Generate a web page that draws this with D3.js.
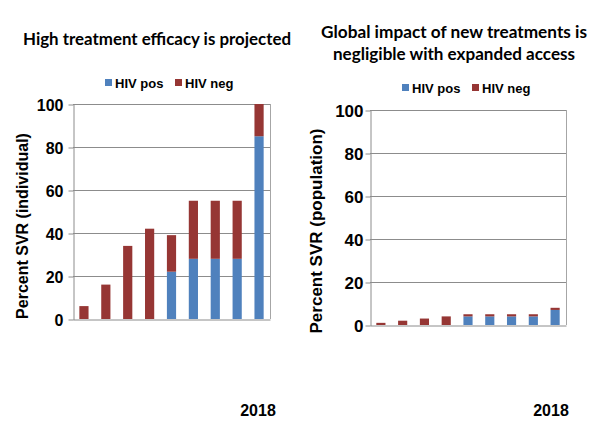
<!DOCTYPE html>
<html><head><meta charset="utf-8">
<script src="https://cdn.jsdelivr.net/npm/d3@7"></script>
<style>body{margin:0;background:#fff}svg{display:block}text{font-family:"Liberation Sans",Arial,sans-serif;font-weight:bold;fill:#000}</style>
</head><body>
<svg id="c" width="600" height="428"></svg>
<script>
const categories = ["1","2","3","4","5","6","7","8","2018"];
const seriesNames = ["HIV pos","HIV neg"];
const leftPos = [0,0,0,0,22,28,28,28,85];
const leftNeg = [6,16,34,42,17,27,27,27,15];
const rightPos = [0,0,0,0,4,4,4,4,7];
const rightNeg = [1,2,3,4,1,1,1,1,1];
const yTicks = [0,20,40,60,80,100];
const xLabels = ["","","","","","","","","2018"];
const colors = ["#4F81BD","#963634"];

const svg = d3.select("#c");

function drawChart(o){
  const g = svg.append("g");
  const x = d3.scaleBand().domain(categories).range([o.x0,o.x1]).paddingInner(0.58).paddingOuter(0.29);
  const y = d3.scaleLinear().domain([0,100]).range([o.y0,o.y1]);
  // gridlines
  g.selectAll(".grid").data(yTicks.filter(t=>t>0)).join("line")
    .attr("x1",o.x0).attr("x2",o.x1).attr("y1",d=>y(d)+0.5).attr("y2",d=>y(d)+0.5)
    .attr("stroke","#8c8c8c").attr("stroke-width",1);
  // right border
  g.append("line").attr("x1",o.x1+0.5).attr("x2",o.x1+0.5).attr("y1",y(100)).attr("y2",y(0))
    .attr("stroke","#a6a6a6");
  const data = categories.map((c,i)=>({c,pos:o.pos[i],neg:o.neg[i]}));
  g.selectAll(".pos").data(data).join("rect")
    .attr("x",d=>x(d.c)).attr("width",x.bandwidth())
    .attr("y",d=>y(d.pos)).attr("height",d=>y(0)-y(d.pos)).attr("fill",colors[0]);
  g.selectAll(".neg").data(data).join("rect")
    .attr("x",d=>x(d.c)).attr("width",x.bandwidth())
    .attr("y",d=>y(d.pos+d.neg)).attr("height",d=>y(d.pos)-y(d.pos+d.neg)).attr("fill",colors[1]);
  // axes
  const ya = d3.axisLeft(y).tickValues(yTicks).tickSize(5).tickSizeOuter(0).tickPadding(o.tickPad);
  const yg = g.append("g").attr("transform",`translate(${o.x0+0.5},0.5)`).call(ya);
  yg.select(".domain").attr("stroke","#8c8c8c");
  yg.selectAll("line").attr("stroke","#8c8c8c");
  yg.selectAll("text").style("font-size",o.tickFont+"px").attr("font-family",null).attr("dy","0.36em");
  const xa = d3.axisBottom(x).tickSize(0).tickSizeOuter(0).tickFormat(()=> "");
  const xg = g.append("g").attr("transform",`translate(0,${o.y0+0.5})`).call(xa);
  xg.select(".domain").attr("stroke","#8c8c8c");
  // x label 2018
  g.append("text").attr("x",o.yearX).attr("y",416).attr("text-anchor","middle")
    .style("font-size","16px").text(xLabels[8]);
  // y title
  g.append("text").attr("transform",`translate(${o.ytX},${o.ytY}) rotate(-90)`)
    .attr("text-anchor","middle").style("font-size",o.ytFont+"px").text(o.yTitle);
  // title
  o.title.forEach((t,i)=>{
    g.append("text").attr("x",o.titleX).attr("y",o.titleY+i*22).attr("text-anchor","middle")
      .style("font-family","Lato, 'Open Sans', sans-serif").style("font-size","17px")
      .attr("textLength",o.titleW[i]).attr("lengthAdjust","spacingAndGlyphs").text(t);
  });
  // legend
  seriesNames.forEach((s,i)=>{
    const lx = o.legX[i];
    g.append("rect").attr("x",lx).attr("y",o.legY-4).attr("width",7).attr("height",7).attr("fill",colors[i]);
    g.append("text").attr("x",lx+10).attr("y",o.legY+5).style("font-size",o.legFont+"px").text(s);
  });
}

drawChart({x0:73,x1:270,y0:319,y1:104,pos:leftPos,neg:leftNeg,tickPad:5,tickFont:16,
  yearX:258,ytX:28,ytY:226,ytFont:16,yTitle:"Percent SVR (individual)",
  title:["High treatment efficacy is projected"],titleX:157,titleY:45,titleW:[268],
  legX:[105,175],legY:83,legFont:13});
drawChart({x0:370,x1:566,y0:325,y1:110,pos:rightPos,neg:rightNeg,tickPad:2,tickFont:17,
  yearX:551,ytX:322,ytY:231,ytFont:17,yTitle:"Percent SVR (population)",
  title:["Global impact of new treatments is","negligible with expanded access"],titleX:454,titleY:38,titleW:[266,242],
  legX:[402,472],legY:88,legFont:13});
</script>
</body></html>
